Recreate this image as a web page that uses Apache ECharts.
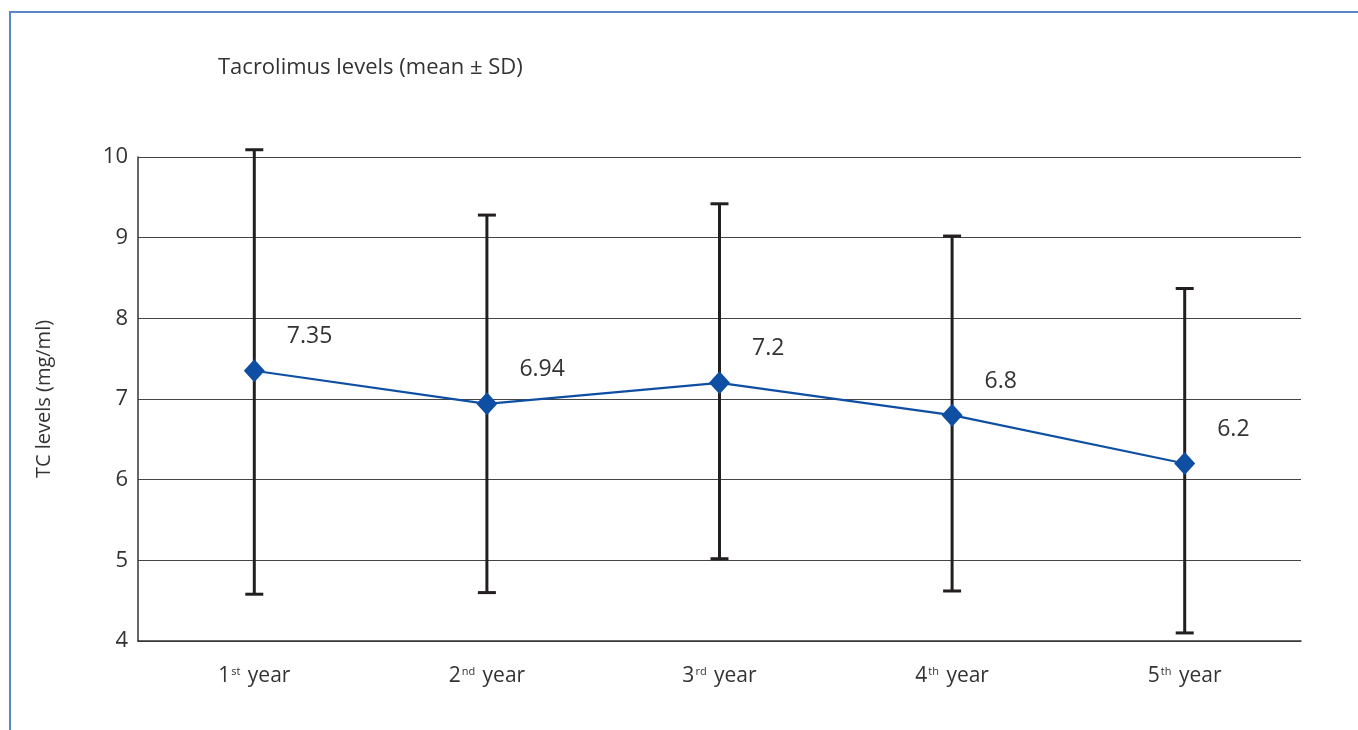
<!DOCTYPE html>
<html>
<head>
<meta charset="utf-8">
<title>Tacrolimus levels</title>
<style>
  html, body { margin: 0; padding: 0; background: #fff; }
  #chart { width: 1358px; height: 730px; }
</style>
</head>
<body>
<div id="chart"></div>
<script src="https://cdn.jsdelivr.net/npm/echarts@6/dist/echarts.min.js"></script>
<script>
// data
var categories = ['1st year', '2nd year', '3rd year', '4th year', '5th year'];
var means = [7.35, 6.94, 7.2, 6.8, 6.2];
var upper = [10.09, 9.28, 9.42, 9.02, 8.37];
var lower = [4.58, 4.6, 5.02, 4.62, 4.1];
var yTicks = { min: 4, max: 10, step: 1 };

var font = '"Open Sans", "Noto Sans", sans-serif';
var textColor = '#333';

var errData = categories.map(function (c, i) {
  return [i, lower[i], upper[i]];
});

var myChart = echarts.init(document.getElementById('chart'));

var option = {
  animation: false,
  textStyle: { fontFamily: font },
  graphic: [
    // blue frame at top / left
    { type: 'line', shape: { x1: 9, y1: 12, x2: 1358, y2: 12 }, style: { stroke: '#5b87c5', lineWidth: 2 } },
    { type: 'line', shape: { x1: 10, y1: 11, x2: 10, y2: 730 }, style: { stroke: '#5b87c5', lineWidth: 2 } }
  ],
  title: {
    text: 'Tacrolimus levels (mean ± SD)',
    left: 213,
    top: 52,
    textStyle: { fontFamily: font, fontSize: 22, fontWeight: 'normal', color: textColor }
  },
  grid: { left: 138, right: 57, top: 157, bottom: 89 },
  xAxis: {
    type: 'category',
    data: categories,
    boundaryGap: true,
    axisLine: { lineStyle: { color: '#333', width: 1.5 } },
    axisTick: { show: false },
    axisLabel: {
      margin: 25,
      formatter: function (v) {
        var m = v.match(/^(\d)(\w\w) (.*)$/);
        return '{n|' + m[1] + '}{s|' + m[2] + '}{n| ' + m[3] + '}';
      },
      rich: {
        n: { fontFamily: font, fontSize: 21, color: textColor },
        s: { fontFamily: font, fontSize: 11, color: textColor, verticalAlign: 'top', padding: [0, 2, 0, 1] }
      }
    }
  },
  yAxis: {
    type: 'value',
    min: yTicks.min,
    max: yTicks.max,
    interval: yTicks.step,
    name: 'TC levels (mg/ml)',
    nameLocation: 'middle',
    nameGap: 84,
    nameTextStyle: { fontFamily: font, fontSize: 20, color: textColor },
    axisLine: { show: true, lineStyle: { color: '#333', width: 1.5 } },
    axisTick: { show: false },
    axisLabel: { margin: 10, fontFamily: font, fontSize: 22, color: textColor },
    splitLine: { lineStyle: { color: '#444', width: 1.2 } }
  },
  series: [
    {
      type: 'custom',
      data: errData,
      z: 1,
      renderItem: function (params, api) {
        var x = api.value(0);
        var lo = api.coord([x, api.value(1)]);
        var hi = api.coord([x, api.value(2)]);
        var half = 9;
        var st = { stroke: '#231f20', lineWidth: 3 };
        return {
          type: 'group',
          children: [
            { type: 'line', shape: { x1: hi[0], y1: hi[1], x2: lo[0], y2: lo[1] }, style: st },
            { type: 'line', shape: { x1: hi[0] - half, y1: hi[1], x2: hi[0] + half, y2: hi[1] }, style: st },
            { type: 'line', shape: { x1: lo[0] - half, y1: lo[1], x2: lo[0] + half, y2: lo[1] }, style: st }
          ]
        };
      }
    },
    {
      type: 'line',
      data: means,
      z: 3,
      symbol: 'diamond',
      symbolSize: [21, 23],
      lineStyle: { color: '#0f4fa3', width: 2.2 },
      itemStyle: { color: '#0f4fa3' },
      label: {
        show: true,
        position: 'right',
        distance: 0,
        offset: [22, -34],
        fontFamily: font,
        fontSize: 23,
        color: textColor
      }
    }
  ]
};

myChart.setOption(option);
</script>
</body>
</html>
